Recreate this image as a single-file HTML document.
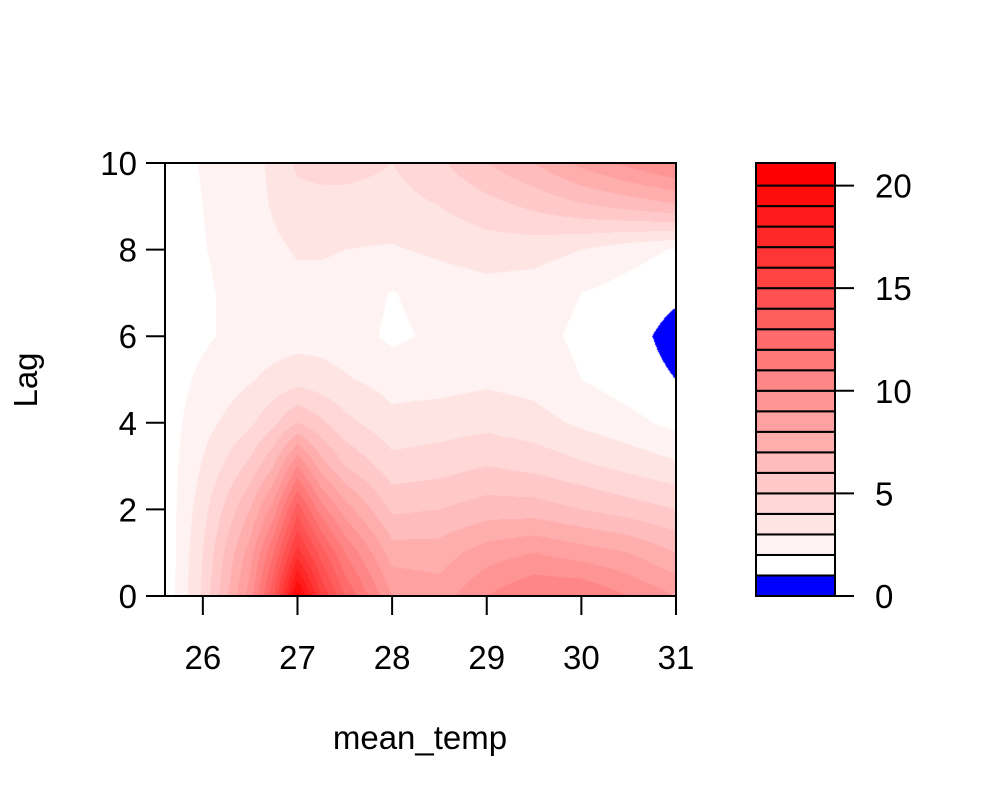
<!DOCTYPE html>
<html><head><meta charset="utf-8"><style>
html,body{margin:0;padding:0;background:#fff;}
#wrap{position:relative;width:1000px;height:800px;font-family:"Liberation Sans",sans-serif;}
canvas{position:absolute;left:0;top:0;}
svg{position:absolute;left:0;top:0;}
</style></head><body>
<div id="wrap">
<canvas id="cv" width="1000" height="800"></canvas>
<svg id="sv" width="1000" height="800"></svg>
</div>
<script>
const xVals=[25.6,26,26.5,26.75,27,27.25,27.5,28,28.5,29,29.5,30,30.5,31];
const lagVals=[0,1,2,3,4,5,6,7,8,9,10];
const zRows=[
[1.2,4.2,9.5,14,20.5,16,13,9,8.5,10,11,11,10,9],
[1.2,4.0,8.5,12,16.5,13.5,11,7.5,7.5,8.5,9,8.5,8,7],
[1.3,3.6,7,9.5,13.6,10.5,8.5,5.8,6,6.5,6.5,6,5.5,5],
[1.4,3.1,5.3,7,10,7.5,6,4.4,4.6,5,4.7,4.2,3.7,3.2],
[1.5,2.6,3.8,4.8,6,5.2,4.3,3.3,3.5,3.7,3.4,2.8,2.3,1.7],
[1.5,2.2,2.9,3.3,3.6,3.4,3.1,2.6,2.6,2.8,2.6,2.0,1.5,1],
[1.5,1.85,2.4,2.5,2.6,2.6,2.5,1.8,2.2,2.5,2.3,1.8,1.4,0.6],
[1.5,1.85,2.4,2.6,2.7,2.7,2.6,1.95,2.4,2.6,2.5,2.0,1.6,1.2],
[1.5,1.95,2.5,2.8,3.1,3.1,3.0,2.9,3.2,3.5,3.4,3.0,2.4,1.9],
[1.6,2.0,2.6,3.1,3.6,3.6,3.6,3.6,4.0,4.6,5.2,5.8,6.3,6.8],
[1.7,2.05,2.5,3.3,4.2,4.4,4.4,4,4.8,6,7,8.3,9.3,10.2]
];
const levels=[0,1,2,3,4,5,6,7,8,9,10,11,12,13,14,15,16,17,18,19,20,21.1];
const xTicks=[26,27,28,29,30,31];
const yTicks=[0,2,4,6,8,10];
const legTicks=[0,5,10,15,20];

const PL=165,PR=676,PT=163,PB=596;
const xMin=25.6,xMax=31,yMin=0,yMax=10;
const sx=v=>PL+(v-xMin)/(xMax-xMin)*(PR-PL);
const sy=v=>PB-(v-yMin)/(yMax-yMin)*(PB-PT);
const LL=756,LR=835,LT=163,LB=596;
const ly=v=>LB-(v-0)/(21.1-0)*(LB-LT);
const FS=33;

function binColor(i){
  if(i<=0) return 'rgb(0,0,255)';
  const c=Math.max(0,Math.round(255*(1-(i-1)/19)));
  return 'rgb(255,'+c+','+c+')';
}
function binOf(v){
  for(let i=levels.length-2;i>=0;i--){ if(v>=levels[i]) return i; }
  return 0;
}
function interp(x,y){
  let i=0; while(i<xVals.length-2 && x>xVals[i+1]) i++;
  let j=0; while(j<lagVals.length-2 && y>lagVals[j+1]) j++;
  const tx=Math.min(1,Math.max(0,(x-xVals[i])/(xVals[i+1]-xVals[i])));
  const ty=Math.min(1,Math.max(0,(y-lagVals[j])/(lagVals[j+1]-lagVals[j])));
  const a=zRows[j][i],b=zRows[j][i+1],c=zRows[j+1][i],d=zRows[j+1][i+1];
  return (a*(1-tx)+b*tx)*(1-ty)+(c*(1-tx)+d*tx)*ty;
}
const ctx=document.getElementById('cv').getContext('2d');
for(let px=PL;px<PR;px++){
  for(let py=PT;py<PB;py++){
    const xv=xMin+(px+0.5-PL)/(PR-PL)*(xMax-xMin);
    const yv=yMin+(PB-(py+0.5))/(PB-PT)*(yMax-yMin);
    ctx.fillStyle=binColor(binOf(interp(xv,yv)));
    ctx.fillRect(px,py,1,1);
  }
}
const NS='http://www.w3.org/2000/svg';
const sv=document.getElementById('sv');
function mk(tag,attrs,name,txt){
  const e=document.createElementNS(NS,tag);
  for(const k in attrs) e.setAttribute(k,attrs[k]);
  
  
  if(txt!==undefined) e.textContent=txt;
  sv.appendChild(e); return e;
}
mk('rect',{x:PL,y:PT,width:PR-PL,height:PB-PT,fill:'none',stroke:'#000','stroke-width':2},'plot-box');
mk('line',{x1:PL,y1:sy(0),x2:PL,y2:sy(10),stroke:'#000','stroke-width':2},'y-axis-line');
yTicks.forEach(t=>{
  mk('line',{x1:PL-19,y1:sy(t),x2:PL,y2:sy(t),stroke:'#000','stroke-width':2},'y-tick');
  mk('text',{x:PL-28,y:sy(t)+12,'text-anchor':'end','font-size':FS},'y-tick-label',String(t));
});
mk('line',{x1:sx(26),y1:PB,x2:sx(31),y2:PB,stroke:'#000','stroke-width':2},'x-axis-line');
xTicks.forEach(t=>{
  mk('line',{x1:sx(t),y1:PB,x2:sx(t),y2:PB+19,stroke:'#000','stroke-width':2},'x-tick');
  mk('text',{x:sx(t),y:669,'text-anchor':'middle','font-size':FS},'x-tick-label',String(t));
});
mk('text',{x:420,y:749,'text-anchor':'middle','font-size':FS},'x-axis-title','mean_temp');
mk('text',{x:37,y:380,'text-anchor':'middle','font-size':FS,transform:'rotate(-90 37 380)'},'y-axis-title','Lag');
for(let i=0;i<levels.length-1;i++){
  mk('rect',{x:LL,y:ly(levels[i+1]),width:LR-LL,height:ly(levels[i])-ly(levels[i+1]),fill:binColor(i),stroke:'#000','stroke-width':2},'legend-bin');
}
mk('rect',{x:LL,y:LT,width:LR-LL,height:LB-LT,fill:'none',stroke:'#000','stroke-width':2},'legend-box');
mk('line',{x1:LR,y1:ly(0),x2:LR,y2:ly(20),stroke:'#000','stroke-width':2},'legend-axis-line');
legTicks.forEach(t=>{
  mk('line',{x1:LR,y1:ly(t),x2:LR+19,y2:ly(t),stroke:'#000','stroke-width':2},'legend-tick');
  mk('text',{x:LR+40,y:ly(t)+12,'text-anchor':'start','font-size':FS},'legend-tick-label',String(t));
});
</script>
</body></html>
